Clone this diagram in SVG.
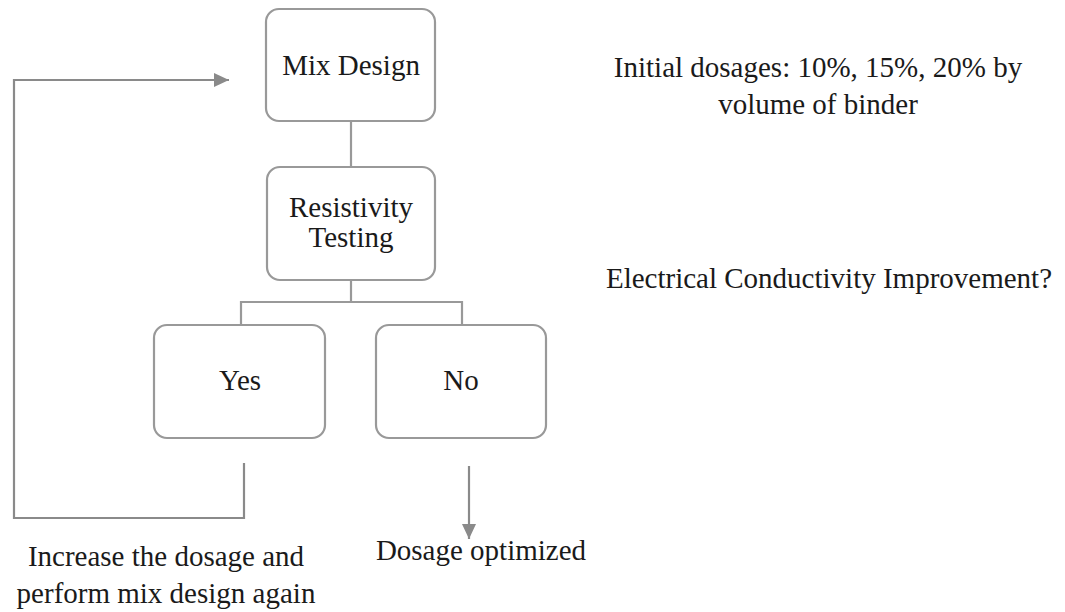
<svg xmlns="http://www.w3.org/2000/svg" width="1065" height="612" viewBox="0 0 1065 612">
<style>
.box{fill:#fff;stroke:#999;stroke-width:2.2}
.ln{fill:none;stroke:#999;stroke-width:2.2}
.ar{fill:none;stroke:#8a8a8a;stroke-width:2.2}
text{font-family:"Liberation Serif","Times New Roman",serif;font-size:29px;fill:#1a1a1a;text-anchor:middle}
</style>
<defs>
<marker id="ah" markerWidth="16" markerHeight="14" refX="15" refY="7" orient="auto" markerUnits="userSpaceOnUse">
<path d="M0,0 L15,7 L0,14 Z" fill="#8a8a8a"/>
</marker>
</defs>
<rect width="1065" height="612" fill="#fff"/>
<g id="connectors">
<path class="ln" d="M351,121 V167"/>
<path class="ln" d="M351,280 V302 M241,325 V302 H462 V325"/>
<path class="ar" d="M244,463 V518 H14 V80 H229" marker-end="url(#ah)"/>
<path class="ar" d="M469,466 V539" marker-end="url(#ah)"/>
</g>
<g id="mix-design">
<rect class="box" x="266" y="9" width="169" height="112" rx="13"/>
<text x="351" y="75">Mix Design</text>
</g>
<g id="resistivity-testing">
<rect class="box" x="267" y="167" width="168" height="113" rx="13"/>
<text x="351" y="217">Resistivity</text>
<text x="351" y="247">Testing</text>
</g>
<g id="yes">
<rect class="box" x="154" y="325" width="171" height="113" rx="13"/>
<text x="240" y="390">Yes</text>
</g>
<g id="no">
<rect class="box" x="376" y="325" width="170" height="113" rx="13"/>
<text x="461" y="390">No</text>
</g>
<g id="initial-dosages">
<text x="818" y="77">Initial dosages: 10%, 15%, 20% by</text>
<text x="818" y="114">volume of binder</text>
</g>
<g id="conductivity-question">
<text x="829" y="288">Electrical Conductivity Improvement?</text>
</g>
<g id="increase-label">
<text x="166" y="566">Increase the dosage and</text>
<text x="166" y="603">perform mix design again</text>
</g>
<g id="optimized-label">
<text x="481" y="560">Dosage optimized</text>
</g>
</svg>
